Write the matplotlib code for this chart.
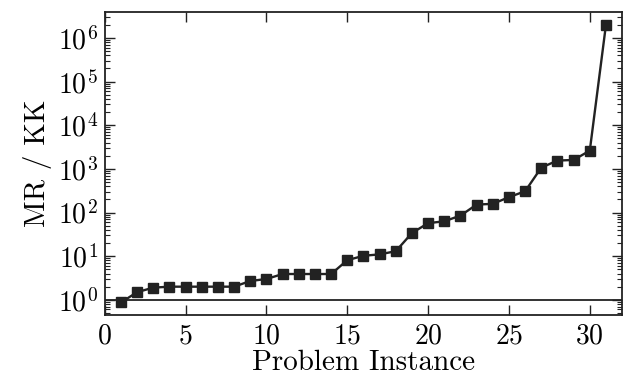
import numpy as np
import matplotlib
matplotlib.use("Agg")
import matplotlib.pyplot as plt
from matplotlib.ticker import LogLocator, NullLocator, NullFormatter

plt.rcParams['font.family'] = 'serif'
plt.rcParams['font.serif'] = ['cmr10']
plt.rcParams['mathtext.fontset'] = 'cm'
plt.rcParams['axes.formatter.use_mathtext'] = True
plt.rcParams['axes.unicode_minus'] = False

# problem instances and MR / KK ratio
instance = list(range(1, 32))
ratio = [0.87, 1.5, 1.9, 2.0, 2.0, 2.0, 2.0, 2.0, 2.7, 3.0,
         3.9, 3.9, 3.9, 3.9, 8.1, 10.2, 11, 13, 34, 57,
         63, 85, 152, 158, 225, 307, 1070, 1550, 1600, 2620,
         2.0e6]

col = '#222222'

fig = plt.figure(figsize=(6.24, 3.79), dpi=100)
ax = fig.add_axes([0.168, 0.169, 0.829, 0.799])

ax.axhline(1, color=col, lw=1.3, zorder=1)
ax.plot(instance, ratio, marker='s', ms=6.5, color=col, lw=1.7, zorder=2)

ax.set_yscale('log')
ax.set_xlim(0, 32)
ax.set_ylim(0.45, 3.9e6)
ax.set_xticks([0, 5, 10, 15, 20, 25, 30])
ax.xaxis.set_minor_locator(NullLocator())
ax.yaxis.set_major_locator(LogLocator(base=10, numticks=12))
ax.yaxis.set_minor_locator(LogLocator(base=10, subs=np.arange(2, 10), numticks=12))
ax.yaxis.set_minor_formatter(NullFormatter())

ax.tick_params(which='both', direction='in', top=True, right=True, labelsize=20, color=col)
ax.tick_params(which='major', length=7, width=1)
ax.tick_params(which='minor', length=3.5, width=0.8)
ax.tick_params(axis='x', pad=6)
ax.tick_params(axis='y', pad=5)
for s in ax.spines.values():
    s.set_linewidth(1.3)
    s.set_color(col)

ax.set_xlabel('Problem Instance', fontsize=21, labelpad=0)
ax.set_ylabel('MR / KK', fontsize=21, labelpad=4)

fig.savefig('out.png', dpi=100)
